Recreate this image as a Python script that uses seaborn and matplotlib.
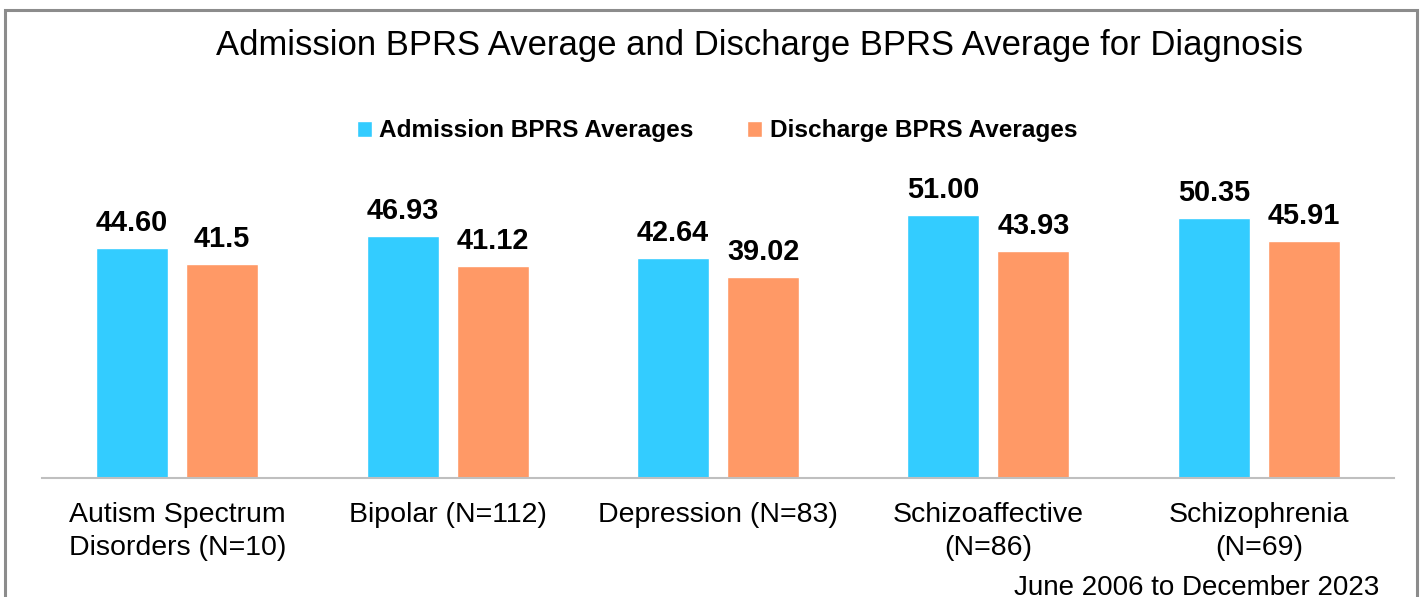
import numpy as np
import pandas as pd
import matplotlib.pyplot as plt
from matplotlib.patches import Rectangle
import seaborn as sns

# ── Datos ──
diagnosticos = ['Autism Spectrum\nDisorders (N=10)', 'Bipolar (N=112)', 'Depression (N=83)',
                'Schizoaffective\n(N=86)', 'Schizophrenia\n(N=69)']
admision = [44.60, 46.93, 42.64, 51.00, 50.35]
alta = [41.5, 41.12, 39.02, 43.93, 45.91]
etiquetas_admision = ['44.60', '46.93', '42.64', '51.00', '50.35']
etiquetas_alta = ['41.5', '41.12', '39.02', '43.93', '45.91']
series = ['Admission BPRS Averages', 'Discharge BPRS Averages']
colores = ['#33CCFF', '#FF9966']

df = pd.DataFrame({
    'diagnosis': diagnosticos * 2,
    'value': admision + alta,
    'series': [series[0]] * len(admision) + [series[1]] * len(alta),
})

sns.set_style("white")
plt.rcParams['font.family'] = ['Liberation Sans', 'DejaVu Sans']
plt.rcParams.update({'text.color': 'black', 'xtick.color': 'black'})

fig = plt.figure(figsize=(14.21, 5.97), dpi=100)
ax = fig.add_axes([42 / 1421, 119 / 597, 1352 / 1421, 309.4 / 597])

sns.barplot(data=df, x='diagnosis', y='value', hue='series', palette=colores,
            saturation=1, errorbar=None, width=0.666, gap=0.2, ax=ax)
ax.set_ylim(0, 60)
ax.set_xlim(-0.5, len(diagnosticos) - 0.5)

for cont, labs in zip(ax.containers, [etiquetas_admision, etiquetas_alta]):
    ax.bar_label(cont, labels=labs, padding=8, fontsize=20.8, fontweight='bold', color='black')

# ── Ejes ──
ax.set_xlabel(''); ax.set_ylabel('')
ax.set_yticks([])
ax.tick_params(axis='x', length=0, pad=17, labelsize=20.5, labelcolor='black')
for t in ax.get_xticklabels():
    t.set_linespacing(1.38)
for s in ['top', 'right', 'left']:
    ax.spines[s].set_visible(False)
ax.spines['bottom'].set_color('#BFBFBF')
ax.spines['bottom'].set_linewidth(1.5)

# ── Leyenda ──
handles, labels = ax.get_legend_handles_labels()
ax.get_legend().remove()
fig.legend(handles, labels, loc='center', bbox_to_anchor=(717 / 1421, 466 / 597), ncol=2,
           frameon=False, handlelength=0.62, handleheight=0.62, handletextpad=0.3,
           columnspacing=2.2, prop={'size': 17.6, 'weight': 'bold'})

# ── Título y nota ──
fig.text(760 / 1421, 551 / 597, 'Admission BPRS Average and Discharge BPRS Average for Diagnosis',
         ha='center', va='center', fontsize=24.9, color='black')
fig.text(1197 / 1421, 2 / 597, 'June 2006 to December 2023', ha='center', va='baseline',
         fontsize=20, color='black')

# ── Marco ──
fig.add_artist(Rectangle((5 / 1421, -0.1), 1412 / 1421, (587 / 597) + 0.1,
                         transform=fig.transFigure, fill=False, edgecolor='#8C8C8C',
                         linewidth=2.2, clip_on=False))

fig.savefig('out.png', dpi=100)
